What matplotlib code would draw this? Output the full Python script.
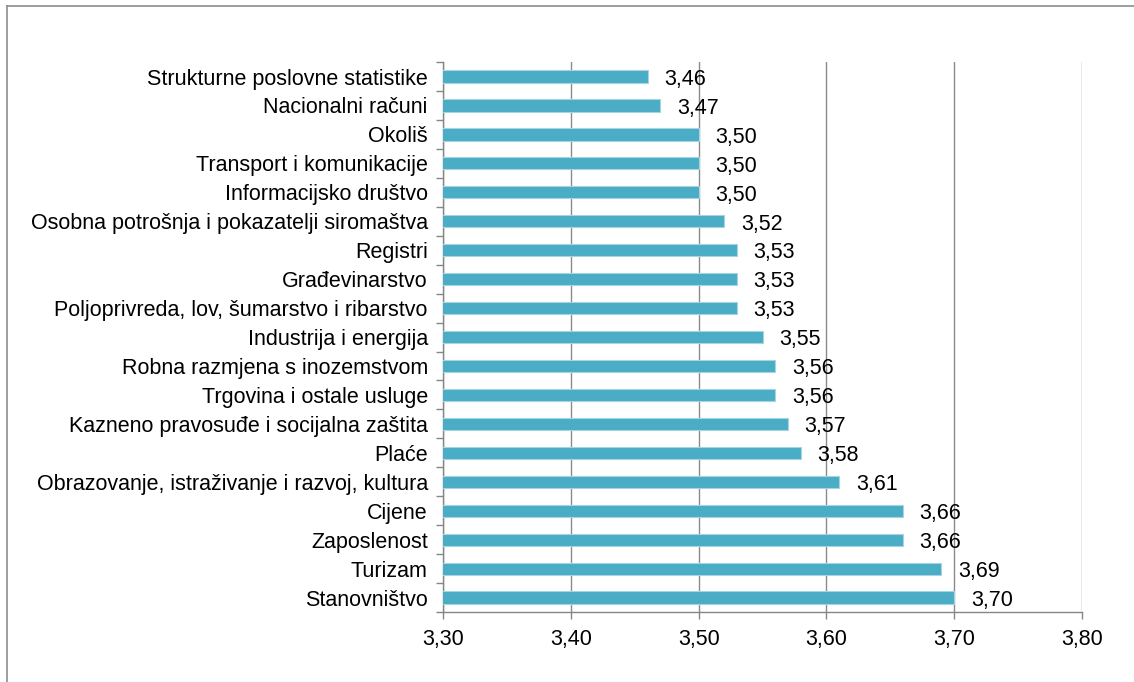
import matplotlib
matplotlib.use("Agg")
import matplotlib.pyplot as plt
from matplotlib.lines import Line2D

plt.rcParams['font.family'] = ['Liberation Sans', 'DejaVu Sans']

categories = ["Strukturne poslovne statistike", "Nacionalni računi", "Okoliš",
              "Transport i komunikacije", "Informacijsko društvo",
              "Osobna potrošnja i pokazatelji siromaštva", "Registri",
              "Građevinarstvo", "Poljoprivreda, lov, šumarstvo i ribarstvo",
              "Industrija i energija", "Robna razmjena s inozemstvom",
              "Trgovina i ostale usluge", "Kazneno pravosuđe i socijalna zaštita",
              "Plaće", "Obrazovanje, istraživanje i razvoj, kultura",
              "Cijene", "Zaposlenost", "Turizam", "Stanovništvo"]
values = [3.46, 3.47, 3.50, 3.50, 3.50, 3.52, 3.53, 3.53, 3.53, 3.55,
          3.56, 3.56, 3.57, 3.58, 3.61, 3.66, 3.66, 3.69, 3.70]
xticks = [3.30, 3.40, 3.50, 3.60, 3.70, 3.80]

fs = 15.5

fig = plt.figure(figsize=(11.34, 6.82), dpi=100)
ax = fig.add_axes([0.3907, 0.1026, 0.5634, 0.8064])

n = len(categories)
ypos = list(range(n))[::-1]
ax.barh(ypos, values, height=0.42, color='#4BACC6', edgecolor='#A5D5E2',
        linewidth=0.8, zorder=3)
for y, v in zip(ypos, values):
    ax.annotate(f"{v:.2f}".replace('.', ','), (v, y), xytext=(12, -2),
                textcoords='offset points', va='center', ha='left',
                fontsize=fs, color='black', zorder=4)

ax.set_xlim(3.30, 3.80)
ax.set_ylim(-0.5, n - 0.5)
ax.set_xticks(xticks)
ax.set_xticklabels([f"{t:.2f}".replace('.', ',') for t in xticks], fontsize=fs)
ax.set_yticks(ypos)
ax.set_yticklabels(categories, fontsize=fs)
ax.set_yticks([i - 0.5 for i in range(n + 1)], minor=True)
ax.tick_params(axis='y', which='major', length=0, pad=11)
ax.tick_params(axis='y', which='minor', length=5, color='#868686', width=1)
ax.tick_params(axis='x', length=5, color='#868686', width=1, pad=7)

ax.grid(axis='x', color='#8a8a8a', linewidth=1, zorder=0)
for s in ['top', 'right']:
    ax.spines[s].set_visible(False)
for s in ['left', 'bottom']:
    ax.spines[s].set_color('#868686')
    ax.spines[s].set_linewidth(1)

# outer frame (top and left edges visible)
fig.add_artist(Line2D([7 / 1134, 1], [1 - 6 / 682, 1 - 6 / 682],
                      transform=fig.transFigure, color='#8c8c8c', linewidth=1.2))
fig.add_artist(Line2D([7 / 1134, 7 / 1134], [0, 1 - 6 / 682],
                      transform=fig.transFigure, color='#8c8c8c', linewidth=1.2))

fig.savefig("out.png", dpi=100)
